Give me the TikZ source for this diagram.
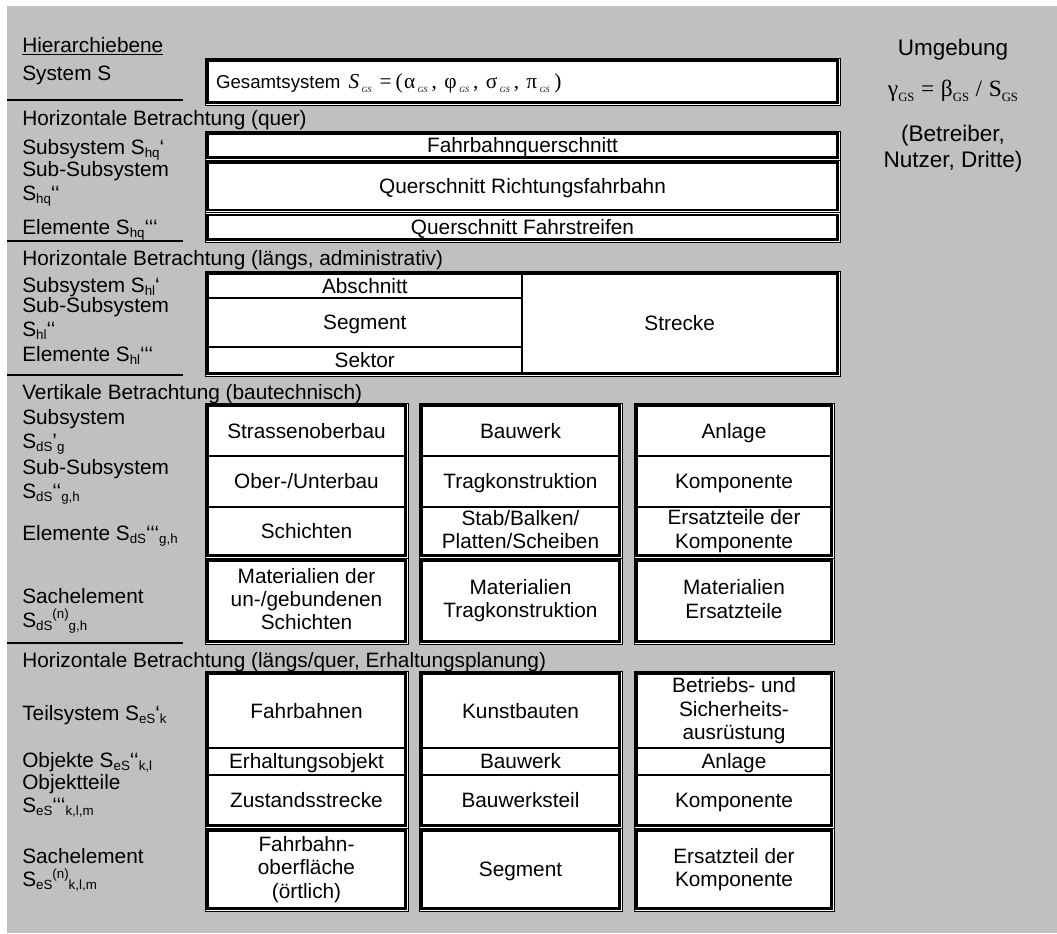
\documentclass[tikz,border=0pt]{standalone}
\usepackage{fontspec}
\setmainfont{Liberation Sans}
\newfontfamily\greek{Liberation Serif}

% text sizes (1px = 0.75pt)
\newcommand\lblsize{\fontsize{15.6pt}{17.4pt}\selectfont}
\newcommand\bigsize{\fontsize{16.9pt}{19.5pt}\selectfont}
% line strut that centres the capitals of a text block
\newcommand\cstrut{\vrule width 0pt height 14.3pt depth 3.1pt}
% small indices
\newcommand\lo[1]{\raisebox{-0.3ex}{\fontsize{10pt}{10pt}\selectfont#1}}
\newcommand\hi[1]{\raisebox{0.75ex}{\fontsize{10pt}{10pt}\selectfont#1}}
\newcommand\gs{\raisebox{-0.35ex}{\fontsize{6pt}{6pt}\selectfont\itshape GS}}
\newcommand\gsr{\raisebox{-0.45ex}{\fontsize{9.5pt}{9.5pt}\selectfont GS}}

\definecolor{bggray}{HTML}{C0C0C0}

\tikzset{
  frame/.style={draw=black, line width=0.75pt, fill=white},
  cellbox/.style={draw=black, line width=1.7pt, inner sep=0pt, align=center, font=\lblsize,
    execute at begin node=\cstrut, execute at end node=\cstrut},
  rowlabel/.style={anchor=west, align=left, inner sep=0pt, font=\lblsize,
    execute at begin node=\cstrut, execute at end node=\cstrut},
  sidetext/.style={align=center, inner sep=0pt, font=\bigsize},
  sectionrule/.style={draw=black, line width=1.5pt},
}

% cell: name, x1, y1, x2, y2, text
\newcommand\cell[6]{%
  \node[cellbox, minimum width={((#4)-(#2))*0.75pt}, minimum height={((#5)-(#3))*0.75pt}]
    (#1) at ({((#2)+(#4))/2},{((#3)+(#5))/2}) {#6};}

\begin{document}
\begin{tikzpicture}[x=0.75pt,y=-0.75pt]
\useasboundingbox (0,0) rectangle (1057,933);
\fill[white] (0,0) rectangle (1057,933);
\fill[bggray] (7,6) rectangle (1057,933);

% ---------- left column: hierarchy levels ----------
\node[rowlabel] (hier) at (22,45) {\underline{Hierarchiebene}};
\node[rowlabel] (lsys) at (22,73) {System S};
\draw[sectionrule] (7,100) -- (183,100);
\node[rowlabel] (sec1) at (22,118) {Horizontale Betrachtung (quer)};
\node[rowlabel] (lhq1) at (22,148) {Subsystem S\lo{hq}‘};
\node[rowlabel] (lhq2) at (22,184) {Sub-Subsystem\\S\lo{hq}‘‘};
\node[rowlabel] (lhq3) at (22,228) {Elemente S\lo{hq}‘‘‘};
\draw[sectionrule] (7,240.5) -- (183,240.5);
\node[rowlabel] (sec2) at (22,258) {Horizontale Betrachtung (längs, administrativ)};
\node[rowlabel] (lhl1) at (22,285) {Subsystem S\lo{hl}‘};
\node[rowlabel] (lhl2) at (22,319) {Sub-Subsystem\\S\lo{hl}‘‘};
\node[rowlabel] (lhl3) at (22,354) {Elemente S\lo{hl}‘‘‘};
\draw[sectionrule] (7,374.5) -- (183,374.5);
\node[rowlabel] (sec3) at (22,392) {Vertikale Betrachtung (bautechnisch)};
\node[rowlabel] (lds1) at (22,432) {Subsystem\\S\lo{dS}’\lo{g}};
\node[rowlabel] (lds2) at (22,482) {Sub-Subsystem\\S\lo{dS}‘‘\lo{g,h}};
\node[rowlabel] (lds3) at (22,534) {Elemente S\lo{dS}‘‘‘\lo{g,h}};
\node[rowlabel] (lds4) at (22,611) {Sachelement\\S\lo{dS}\hi{(n)}\lo{g,h}};
\draw[sectionrule] (7,642.5) -- (183,642.5);
\node[rowlabel] (sec4) at (22,660) {Horizontale Betrachtung (längs/quer, Erhaltungsplanung)};
\node[rowlabel] (les1) at (22,713) {Teilsystem S\lo{eS}‘\lo{k}};
\node[rowlabel] (les2) at (22,760) {Objekte S\lo{eS}‘‘\lo{k,l}};
\node[rowlabel] (les3) at (22,796) {Objektteile\\S\lo{eS}‘‘‘\lo{k,l,m}};
\node[rowlabel] (les4) at (22,870) {Sachelement\\S\lo{eS}\hi{(n)}\lo{k,l,m}};

% ---------- system ----------
\draw[frame] (205,58) rectangle (840,105);
\cell{gesamt}{207.6}{60.6}{837.4}{102.4}{}
\node[rowlabel, font=\fontsize{14pt}{17pt}\selectfont] (gesamttext) at ([xshift=7pt]gesamt.west)
  {Gesamtsystem\hspace{6pt}{\greek\fontsize{16pt}{18pt}\selectfont
  \textit{S}\kern2pt\gs\kern6pt=\kern3pt(\kern1pt α\kern2pt\gs\kern3pt,\kern5.5pt
  φ\kern2pt\gs\kern3pt,\kern5.5pt σ\kern2pt\gs\kern3pt,\kern5.5pt π\kern2pt\gs\kern3.5pt)}};

% ---------- horizontal, cross-section ----------
\draw[frame] (205,131) rectangle (840,160);
\cell{fqs}{207.6}{133.6}{837.4}{157.4}{Fahrbahnquerschnitt}
\draw[frame] (205,160) rectangle (840,212.5);
\cell{qrf}{207.6}{162.6}{837.4}{209.9}{Querschnitt Richtungsfahrbahn}
\draw[frame] (205,212.5) rectangle (840,242);
\cell{qfs}{207.6}{215.1}{837.4}{239.4}{Querschnitt Fahrstreifen}

% ---------- horizontal, longitudinal ----------
\draw[frame] (205,271) rectangle (840,376);
\cell{abschnitt}{207.6}{273.6}{522}{298}{Abschnitt}
\cell{segment}{207.6}{298}{522}{347}{Segment}
\cell{sektor}{207.6}{347}{522}{373.4}{Sektor}
\cell{strecke}{522}{273.6}{837.4}{373.4}{Strecke}

% ---------- vertical (structural) ----------
\draw[frame] (205,403) rectangle (408,558);
\cell{vA1}{207.6}{405.6}{405.4}{456}{Strassenoberbau}
\cell{vA2}{207.6}{456}{405.4}{507}{Ober-/Unterbau}
\cell{vA3}{207.6}{507}{405.4}{555.4}{Schichten}
\draw[frame] (205,558) rectangle (408,644);
\cell{vA4}{207.6}{560.6}{405.4}{641.4}{Materialien der\\un-/gebundenen\\Schichten}

\draw[frame] (419,403) rectangle (622,558);
\cell{vB1}{421.6}{405.6}{619.4}{456}{Bauwerk}
\cell{vB2}{421.6}{456}{619.4}{507}{Tragkonstruktion}
\cell{vB3}{421.6}{507}{619.4}{555.4}{Stab/Balken/\\Platten/Scheiben}
\draw[frame] (419,558) rectangle (622,644);
\cell{vB4}{421.6}{560.6}{619.4}{641.4}{Materialien\\Tragkonstruktion}

\draw[frame] (634,403) rectangle (834,558);
\cell{vC1}{636.6}{405.6}{831.4}{456}{Anlage}
\cell{vC2}{636.6}{456}{831.4}{507}{Komponente}
\cell{vC3}{636.6}{507}{831.4}{555.4}{Ersatzteile der\\Komponente}
\draw[frame] (634,558) rectangle (834,644);
\cell{vC4}{636.6}{560.6}{831.4}{641.4}{Materialien\\Ersatzteile}

% ---------- horizontal, maintenance planning ----------
\draw[frame] (205,671) rectangle (408,828);
\cell{eA1}{207.6}{673.6}{405.4}{748}{Fahrbahnen}
\cell{eA2}{207.6}{748}{405.4}{775}{Erhaltungsobjekt}
\cell{eA3}{207.6}{775}{405.4}{825.4}{Zustandsstrecke}
\draw[frame] (205,828) rectangle (408,911);
\cell{eA4}{207.6}{830.6}{405.4}{908.4}{Fahrbahn-\\oberfläche\\(örtlich)}

\draw[frame] (419,671) rectangle (622,828);
\cell{eB1}{421.6}{673.6}{619.4}{748}{Kunstbauten}
\cell{eB2}{421.6}{748}{619.4}{775}{Bauwerk}
\cell{eB3}{421.6}{775}{619.4}{825.4}{Bauwerksteil}
\draw[frame] (419,828) rectangle (622,911);
\cell{eB4}{421.6}{830.6}{619.4}{908.4}{Segment}

\draw[frame] (634,671) rectangle (834,828);
\cell{eC1}{636.6}{673.6}{831.4}{748}{Betriebs- und\\Sicherheits-\\ausrüstung}
\cell{eC2}{636.6}{748}{831.4}{775}{Anlage}
\cell{eC3}{636.6}{775}{831.4}{825.4}{Komponente}
\draw[frame] (634,828) rectangle (834,911);
\cell{eC4}{636.6}{830.6}{831.4}{908.4}{Ersatzteil der\\Komponente}

% ---------- environment ----------
\node[sidetext] (umg) at (953,50) {Umgebung};
\node[sidetext] (umgf) at (953,91) {{\greek\fontsize{17.5pt}{19pt}\selectfont
  γ\gsr\kern5pt=\kern5pt β\gsr\kern5pt/\kern5pt S\gsr}};
\node[sidetext] (umgt) at (953,149) {(Betreiber,\\Nutzer, Dritte)};
\end{tikzpicture}
\end{document}
